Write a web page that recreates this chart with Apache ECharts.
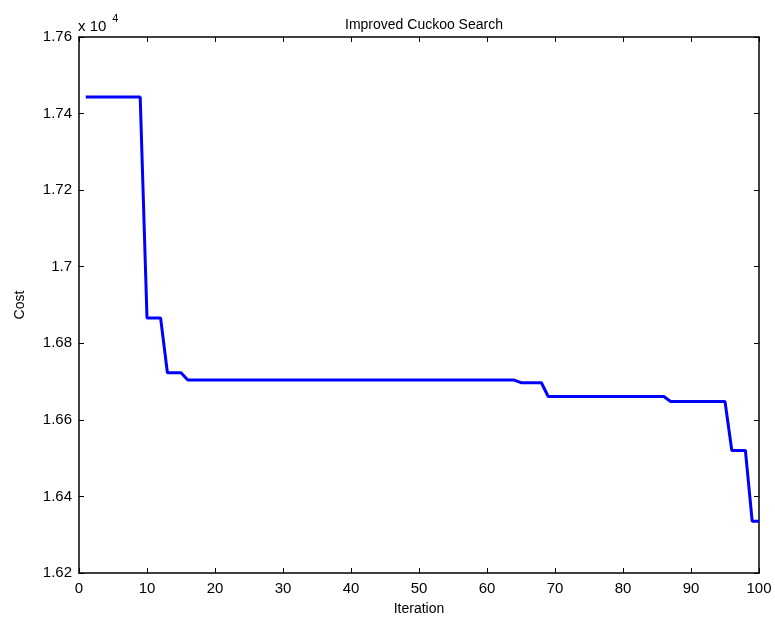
<!DOCTYPE html>
<html>
<head>
<meta charset="utf-8">
<script src="https://cdn.jsdelivr.net/npm/echarts@6/dist/echarts.min.js"></script>
<style>
html, body { margin: 0; padding: 0; background: #fff; }
#chart { width: 775px; height: 622px; }
</style>
</head>
<body>
<div id="chart"></div>
<script>
let costs = [
    17443, 17443, 17443, 17443, 17443, 17443, 17443, 17443, 17443,
    16866, 16866, 16866,
    16723, 16723, 16723,
    16704, 16704, 16704, 16704, 16704, 16704, 16704, 16704, 16704, 16704,
    16704, 16704, 16704, 16704, 16704, 16704, 16704, 16704, 16704, 16704,
    16704, 16704, 16704, 16704, 16704, 16704, 16704, 16704, 16704, 16704,
    16704, 16704, 16704, 16704, 16704, 16704, 16704, 16704, 16704, 16704,
    16704, 16704, 16704, 16704, 16704, 16704, 16704, 16704, 16704,
    16697, 16697, 16697, 16697,
    16661, 16661, 16661, 16661, 16661, 16661, 16661, 16661, 16661,
    16661, 16661, 16661, 16661, 16661, 16661, 16661, 16661, 16661,
    16648, 16648, 16648, 16648, 16648, 16648, 16648, 16648, 16648,
    16520, 16520, 16520,
    16335, 16335
];
let iterations = costs.map((c, i) => i + 1);
let xTicks = [0, 100, 10];
let yTicks = [16200, 17600, 200];

let chart = echarts.init(document.getElementById('chart'));
let font = 'Liberation Sans';

let axisStyle = {
    axisLine: { show: true, onZero: false, lineStyle: { color: '#000', width: 1.5 } },
    axisTick: { show: true, inside: true, length: 5, lineStyle: { color: '#000' } },
    splitLine: { show: false }
};

let options = {
    backgroundColor: '#fff',
    animation: false,
    title: {
        text: 'Improved Cuckoo Search',
        left: 419,
        textAlign: 'center',
        top: 13,
        textStyle: { fontFamily: font, fontSize: 14, fontWeight: 'normal', color: '#000' }
    },
    graphic: [{
        type: 'text',
        left: 78,
        top: 13,
        style: {
            text: '{a|x 10}{b|4}',
            rich: {
                a: { fontFamily: font, fontSize: 15, fill: '#000', verticalAlign: 'bottom' },
                b: { fontFamily: font, fontSize: 11, fill: '#000', padding: [0, 0, 10, 6] }
            }
        }
    }],
    grid: { left: 79, right: 16, top: 37, bottom: 49, containLabel: false },
    xAxis: [{
        type: 'value',
        min: xTicks[0], max: xTicks[1], interval: xTicks[2],
        name: 'Iteration',
        nameLocation: 'middle',
        nameGap: 29,
        nameTextStyle: { fontFamily: font, fontSize: 14, color: '#000' },
        axisLabel: { fontFamily: font, fontSize: 15, color: '#000', margin: 8 },
        ...axisStyle
    }, {
        type: 'value',
        position: 'top',
        min: xTicks[0], max: xTicks[1], interval: xTicks[2],
        axisLabel: { show: false },
        ...axisStyle
    }],
    yAxis: [{
        type: 'value',
        min: yTicks[0], max: yTicks[1], interval: yTicks[2],
        name: 'Cost',
        nameLocation: 'middle',
        nameGap: 52,
        nameTextStyle: { fontFamily: font, fontSize: 14, color: '#000' },
        axisLabel: {
            fontFamily: font, fontSize: 15, color: '#000', margin: 7,
            formatter: v => String(Math.round(v) / 1e4)
        },
        ...axisStyle
    }, {
        type: 'value',
        position: 'right',
        min: yTicks[0], max: yTicks[1], interval: yTicks[2],
        axisLabel: { show: false },
        ...axisStyle
    }],
    series: [{
        type: 'line',
        xAxisIndex: 0,
        yAxisIndex: 0,
        showSymbol: false,
        symbol: 'none',
        lineStyle: { color: '#0000ff', width: 3 },
        data: iterations.map((it, i) => [it, costs[i]])
    }]
};
chart.setOption(options);
</script>
</body>
</html>
